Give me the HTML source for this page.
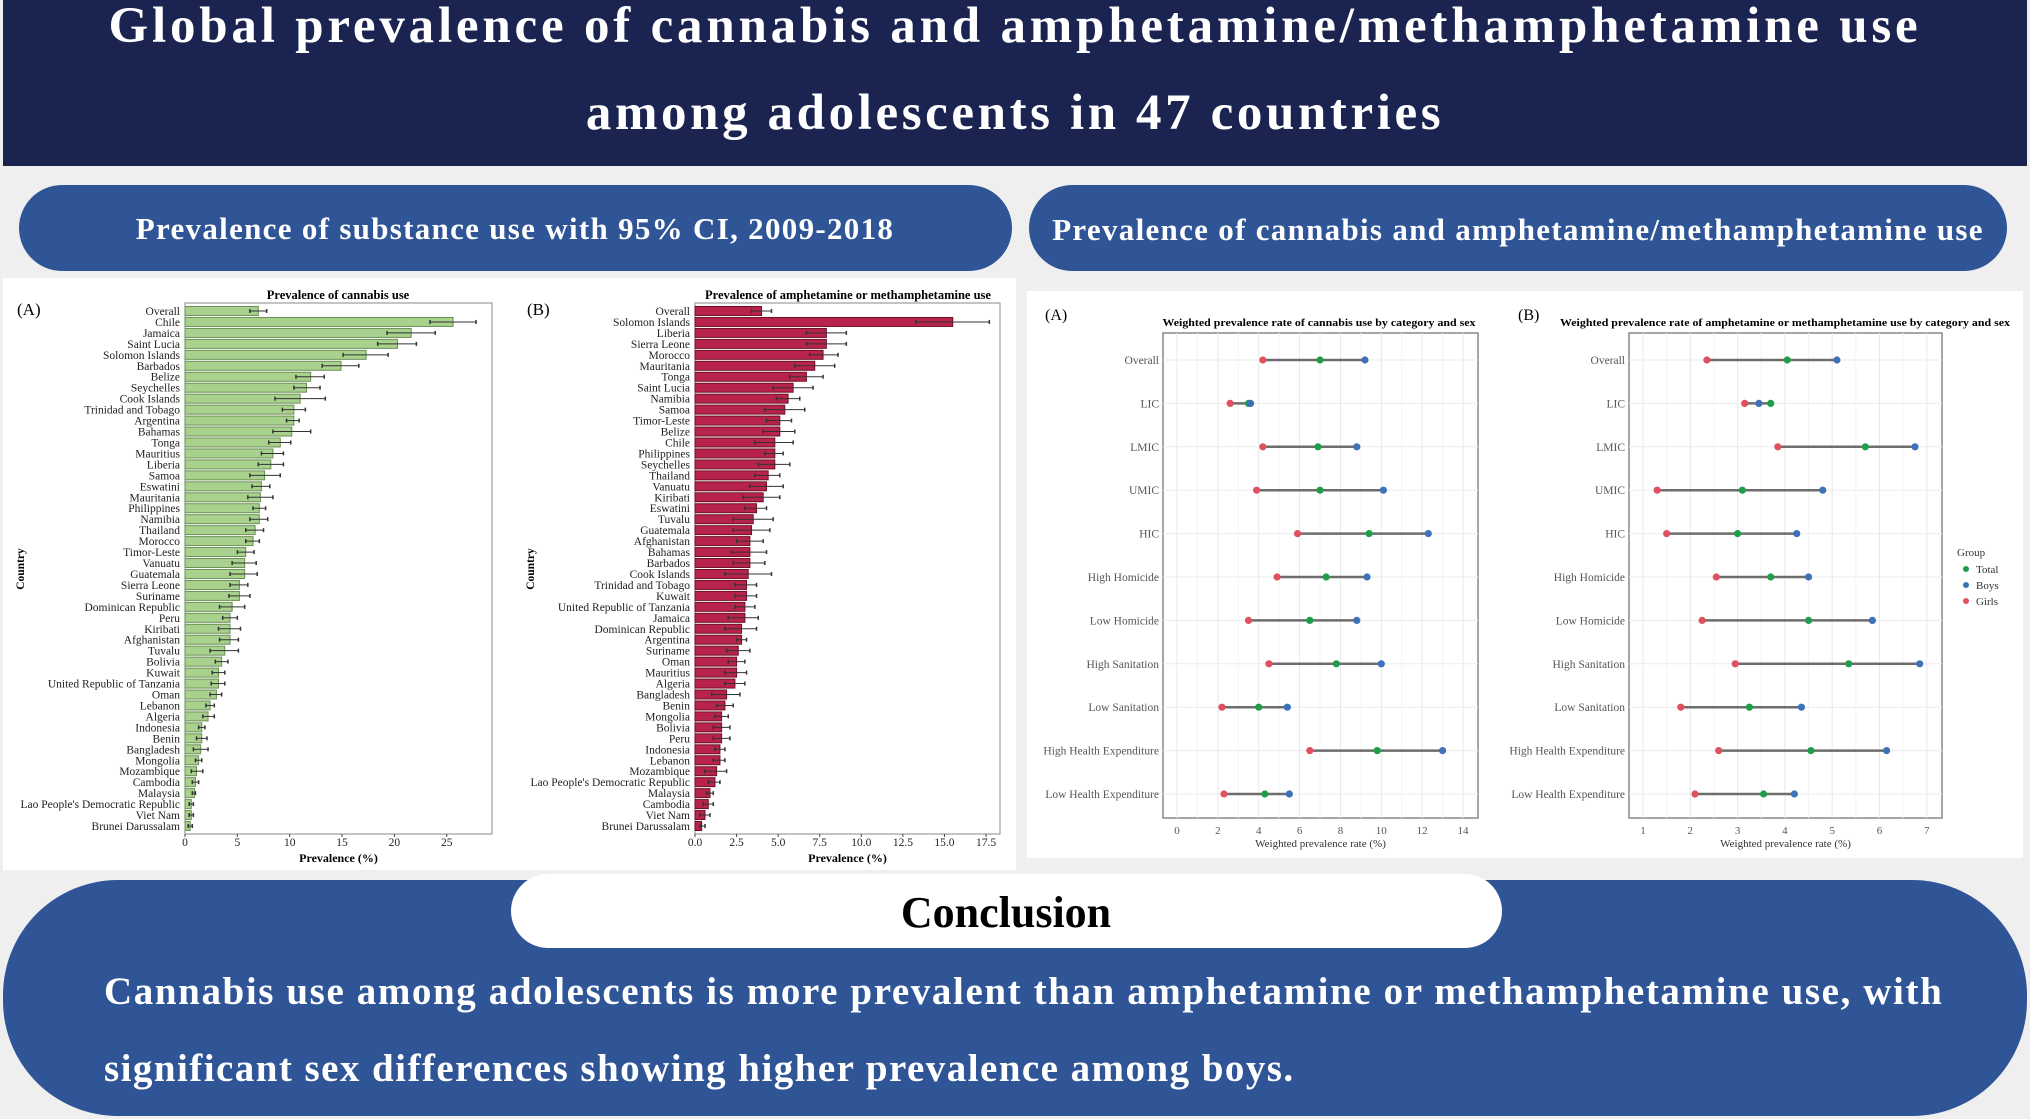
<!DOCTYPE html>
<html><head><meta charset="utf-8"><style>
html,body{margin:0;padding:0;background:#efefef;}
svg{display:block;font-family:"Liberation Serif",serif;}
</style></head><body>
<svg id="s" width="2030" height="1119" viewBox="0 0 2030 1119" xmlns="http://www.w3.org/2000/svg">
<rect x="0" y="0" width="2030" height="1119" fill="#efefef"/>
<rect x="3" y="0" width="2024" height="166" fill="#1b2451"/>
<text x="1015" y="42" text-anchor="middle" fill="#fff" font-size="51" font-weight="bold" letter-spacing="3.8">Global prevalence of cannabis and amphetamine/methamphetamine use</text>
<text x="1015" y="129" text-anchor="middle" fill="#fff" font-size="51" font-weight="bold" letter-spacing="3.6">among adolescents in 47 countries</text>
<rect x="19" y="185" width="993" height="86" rx="43" fill="#2f5597"/>
<text x="515" y="239" text-anchor="middle" fill="#fff" font-size="31" font-weight="bold" letter-spacing="1.3">Prevalence of substance use with 95% CI, 2009-2018</text>
<rect x="1029" y="185" width="978" height="86" rx="43" fill="#2f5597"/>
<text x="1518" y="240" text-anchor="middle" fill="#fff" font-size="31" font-weight="bold" letter-spacing="1.3">Prevalence of cannabis and amphetamine/methamphetamine use</text>
<rect x="3" y="278" width="1013" height="592" fill="#fff"/>
<rect x="1027" y="291" width="996" height="567" fill="#fff"/>
<g id="bars"></g>
<g id="dumb"></g>
<rect x="3" y="880" width="2024" height="236" rx="115" fill="#2f5597"/>
<rect x="511" y="874" width="991" height="74" rx="37" fill="#fff"/>
<text x="1006" y="927" text-anchor="middle" fill="#000" font-size="44" font-weight="bold">Conclusion</text>
<text x="104" y="1004" fill="#fff" font-size="39" font-weight="bold" letter-spacing="1.6">Cannabis use among adolescents is more prevalent than amphetamine or methamphetamine use, with</text>
<text x="104" y="1081" fill="#fff" font-size="39" font-weight="bold" letter-spacing="1.45">significant sex differences showing higher prevalence among boys.</text>
</svg>
<script>
const canCountries=["Overall","Chile","Jamaica","Saint Lucia","Solomon Islands","Barbados","Belize","Seychelles","Cook Islands","Trinidad and Tobago","Argentina","Bahamas","Tonga","Mauritius","Liberia","Samoa","Eswatini","Mauritania","Philippines","Namibia","Thailand","Morocco","Timor-Leste","Vanuatu","Guatemala","Sierra Leone","Suriname","Dominican Republic","Peru","Kiribati","Afghanistan","Tuvalu","Bolivia","Kuwait","United Republic of Tanzania","Oman","Lebanon","Algeria","Indonesia","Benin","Bangladesh","Mongolia","Mozambique","Cambodia","Malaysia","Lao People's Democratic Republic","Viet Nam","Brunei Darussalam"];
const canMean=[7.0,25.6,21.6,20.3,17.3,14.9,12.0,11.6,11.0,10.4,10.4,10.2,9.1,8.4,8.2,7.6,7.3,7.2,7.1,7.1,6.7,6.5,5.8,5.7,5.7,5.2,5.2,4.5,4.3,4.3,4.3,3.8,3.5,3.2,3.2,3.0,2.4,2.2,1.6,1.6,1.5,1.3,1.1,1.0,0.9,0.6,0.6,0.5];
const canLo=[6.2,23.4,19.3,18.4,15.1,13.1,10.6,10.4,8.6,9.3,9.7,8.4,8.0,7.3,7.0,6.2,6.4,6.0,6.5,6.2,5.8,5.8,5.0,4.5,4.3,4.3,4.2,3.3,3.6,3.2,3.3,2.4,2.9,2.6,2.5,2.4,2.0,1.7,1.3,1.1,0.8,1.0,0.6,0.7,0.7,0.4,0.4,0.3];
const canHi=[7.8,27.8,23.9,22.1,19.4,16.6,13.3,12.9,13.4,11.5,10.9,12.0,10.1,9.4,9.4,9.1,8.1,8.4,7.7,7.9,7.5,7.1,6.6,6.8,6.9,6.0,6.2,5.7,5.0,5.3,5.1,5.1,4.1,3.8,3.8,3.5,2.8,2.8,1.9,2.1,2.2,1.6,1.7,1.3,1.0,0.8,0.8,0.7];
const canTicks=[0,5,10,15,20,25];
const ampCountries=["Overall","Solomon Islands","Liberia","Sierra Leone","Morocco","Mauritania","Tonga","Saint Lucia","Namibia","Samoa","Timor-Leste","Belize","Chile","Philippines","Seychelles","Thailand","Vanuatu","Kiribati","Eswatini","Tuvalu","Guatemala","Afghanistan","Bahamas","Barbados","Cook Islands","Trinidad and Tobago","Kuwait","United Republic of Tanzania","Jamaica","Dominican Republic","Argentina","Suriname","Oman","Mauritius","Algeria","Bangladesh","Benin","Mongolia","Bolivia","Peru","Indonesia","Lebanon","Mozambique","Lao People's Democratic Republic","Malaysia","Cambodia","Viet Nam","Brunei Darussalam"];
const ampMean=[4.0,15.5,7.9,7.9,7.7,7.2,6.7,5.9,5.6,5.4,5.1,5.1,4.8,4.8,4.8,4.4,4.3,4.1,3.7,3.5,3.4,3.3,3.3,3.3,3.2,3.1,3.1,3.0,3.0,2.8,2.8,2.6,2.5,2.5,2.4,1.9,1.8,1.6,1.6,1.6,1.5,1.5,1.3,1.2,0.9,0.8,0.6,0.4];
const ampLo=[3.4,13.3,6.7,6.7,6.9,6.0,5.7,4.7,4.9,4.2,4.3,4.1,3.6,4.2,3.8,3.6,3.3,2.9,3.0,2.3,2.3,2.5,2.2,2.3,1.8,2.4,2.4,2.4,2.0,1.8,2.5,1.9,2.0,1.8,1.8,1.0,1.3,1.2,1.1,1.1,1.2,1.1,0.6,0.8,0.7,0.5,0.3,0.3];
const ampHi=[4.6,17.7,9.1,9.1,8.6,8.4,7.7,7.1,6.3,6.6,5.8,6.0,5.9,5.3,5.7,5.1,5.3,5.1,4.3,4.7,4.5,4.1,4.3,4.2,4.6,3.7,3.7,3.6,3.8,3.7,3.1,3.3,3.0,3.1,3.0,2.7,2.3,2.0,2.1,2.1,1.8,1.8,1.9,1.5,1.1,1.1,0.9,0.6];
const ampTicks=[0,2.5,5,7.5,10,12.5,15,17.5];
const ampTickLabels=["0.0","2.5","5.0","7.5","10.0","12.5","15.0","17.5"];

const groups=["Overall","LIC","LMIC","UMIC","HIC","High Homicide","Low Homicide","High Sanitation","Low Sanitation","High Health Expenditure","Low Health Expenditure"];
const canGirls=[4.2,2.6,4.2,3.9,5.9,4.9,3.5,4.5,2.2,6.5,2.3];
const canTotal=[7.0,3.5,6.9,7.0,9.4,7.3,6.5,7.8,4.0,9.8,4.3];
const canBoys=[9.2,3.6,8.8,10.1,12.3,9.3,8.8,10.0,5.4,13.0,5.5];
const ampGirls=[2.35,3.15,3.85,1.3,1.5,2.55,2.25,2.95,1.8,2.6,2.1];
const ampTotal=[4.05,3.7,5.7,3.1,3.0,3.7,4.5,5.35,3.25,4.55,3.55];
const ampBoys=[5.1,3.45,6.75,4.8,4.25,4.5,5.85,6.85,4.35,6.15,4.2];
const dumbTicksA=[0,2,4,6,8,10,12,14];
const dumbTicksB=[1,2,3,4,5,6,7];

const NS="http://www.w3.org/2000/svg";
function mk(parent,tag,attrs,txt){const e=document.createElementNS(NS,tag);for(const k in attrs)e.setAttribute(k,attrs[k]);if(txt!==undefined)e.textContent=txt;parent.appendChild(e);return e;}

function barChart(g,o){
  const sx=v=>o.x0+v*o.unit;
  const n=o.cats.length;
  const yTop=311,yBot=826,pTop=303,pBot=834;
  const sy=i=>yTop+i*(yBot-yTop)/(n-1);
  const bh=(yBot-yTop)/(n-1)*0.82;
  let e=mk(g,"rect",{x:o.left,y:pTop,width:o.right-o.left,height:pBot-pTop,fill:"#fff",stroke:"#888","stroke-width":1});
  
  
  o.cats.forEach((c,i)=>{
    let r=mk(g,"rect",{x:sx(0),y:sy(i)-bh/2,width:sx(o.mean[i])-sx(0),height:bh,fill:o.fill,stroke:o.stroke,"stroke-width":1});
    
    
    let l=mk(g,"line",{x1:sx(o.lo[i]),x2:sx(o.hi[i]),y1:sy(i),y2:sy(i),stroke:"#333","stroke-width":1});
    
    
    [o.lo[i],o.hi[i]].forEach(v=>{let c2=mk(g,"line",{x1:sx(v),x2:sx(v),y1:sy(i)-2,y2:sy(i)+2,stroke:"#333","stroke-width":1.5});
      
      });
    let t=mk(g,"text",{x:o.labelX,y:sy(i)+4,"text-anchor":"end","font-size":11.5,fill:"#222"},c);
    
    
  });
  o.ticks.forEach((v,i)=>{
    let tk=mk(g,"line",{x1:sx(v),x2:sx(v),y1:pBot,y2:pBot+3,stroke:"#444"});
    
    
    let t=mk(g,"text",{x:sx(v),y:846,"text-anchor":"middle","font-size":11.5,fill:"#222"},o.tickLabels?o.tickLabels[i]:String(v));
    
    
  });
  let tt=mk(g,"text",{x:o.titleX,y:299,"text-anchor":"middle","font-size":12.5,"font-weight":"bold"},o.title);
  
  
  let pl=mk(g,"text",{x:o.panelX,y:315,"font-size":17},o.panel);
  
  
  let xl=mk(g,"text",{x:(o.left+o.right)/2,y:862,"text-anchor":"middle","font-size":12,"font-weight":"bold"},"Prevalence (%)");
  
  
  let yl=mk(g,"text",{x:0,y:0,"text-anchor":"middle","font-size":11.5,"font-weight":"bold",transform:`translate(${o.panelX+7},569) rotate(-90)`},"Country");
  
  
}
const bg=document.getElementById("bars");
barChart(bg,{id:"cannabis-chart",cats:canCountries,mean:canMean,lo:canLo,hi:canHi,ticks:canTicks,x0:185,unit:10.47,left:185,right:492,labelX:180,fill:"#a9d18e",stroke:"#6b8f55",title:"Prevalence of cannabis use",titleX:338,panel:"(A)",panelX:17});
barChart(bg,{id:"amphetamine-chart",cats:ampCountries,mean:ampMean,lo:ampLo,hi:ampHi,ticks:ampTicks,tickLabels:ampTickLabels,x0:695,unit:16.63,left:695,right:1000,labelX:690,fill:"#b8234b",stroke:"#6e1028",title:"Prevalence of amphetamine or methamphetamine use",titleX:848,panel:"(B)",panelX:527});

function dumbChart(g,o){
  const sx=v=>o.x0+(v-o.ticks[0])*o.unit;
  const sy=i=>360+i*43.4;
  let e=mk(g,"rect",{x:o.left,y:333,width:o.right-o.left,height:485,fill:"#fff",stroke:"#777","stroke-width":1.3});
  
  
  for(let k=0;k<o.ticks.length*2-1;k++){const v=o.ticks[0]+k*(o.ticks[1]-o.ticks[0])/2;
    let gl=mk(g,"line",{x1:sx(v),x2:sx(v),y1:333,y2:818,stroke:k%2?"#f4f4f4":"#e8e8e8","stroke-width":1});
    
    }
  groups.forEach((c,i)=>{
    let gl=mk(g,"line",{x1:o.left,x2:o.right,y1:sy(i),y2:sy(i),stroke:"#ebebeb"});
    
    
    const vals=[o.girls[i],o.total[i],o.boys[i]];
    let l=mk(g,"line",{x1:sx(Math.min(...vals)),x2:sx(Math.max(...vals)),y1:sy(i),y2:sy(i),stroke:"#6d6d6d","stroke-width":2.5});
    
    
    [[o.total[i],"#1f9e4a","total"],[o.boys[i],"#3d72b8","boys"],[o.girls[i],"#e0505e","girls"]].forEach(p=>{
      let d=mk(g,"circle",{cx:sx(p[0]),cy:sy(i),r:3.6,fill:p[1]});
      
      
    });
    let t=mk(g,"text",{x:o.left-4,y:sy(i)+4,"text-anchor":"end","font-size":11.5,fill:"#555"},c);
    
    
  });
  o.ticks.forEach(v=>{
    let t=mk(g,"text",{x:sx(v),y:834,"text-anchor":"middle","font-size":11,fill:"#555"},String(v));
    
    
  });
  let tt=mk(g,"text",{x:o.titleX,y:326,"text-anchor":"middle","font-size":11,"font-weight":"bold",textLength:o.titleW,lengthAdjust:"spacingAndGlyphs"},o.title);
  
  
  let pl=mk(g,"text",{x:o.panelX,y:320,"font-size":16},o.panel);
  
  
  let xl=mk(g,"text",{x:(o.left+o.right)/2,y:847,"text-anchor":"middle","font-size":11,fill:"#333"},"Weighted prevalence rate (%)");
  
  
}
const dg=document.getElementById("dumb");
dumbChart(dg,{id:"cannabis-dumbbell",girls:canGirls,total:canTotal,boys:canBoys,ticks:dumbTicksA,x0:1177,unit:20.43,left:1163,right:1478,title:"Weighted prevalence rate of cannabis use by category and sex",titleX:1319,titleW:313,panel:"(A)",panelX:1045});
dumbChart(dg,{id:"amphetamine-dumbbell",girls:ampGirls,total:ampTotal,boys:ampBoys,ticks:dumbTicksB,x0:1643,unit:47.3,left:1629,right:1942,title:"Weighted prevalence rate of amphetamine or methamphetamine use by category and sex",titleX:1785,titleW:450,panel:"(B)",panelX:1518});
// legend
let lt=mk(dg,"text",{x:1957,y:556,"font-size":11,fill:"#333"},"Group");


[["Total","#1f9e4a",573],["Boys","#3d72b8",589],["Girls","#e0505e",605]].forEach(p=>{
  let c=mk(dg,"circle",{cx:1966,cy:p[2]-4,r:3,fill:p[1]});
  
  
  let t=mk(dg,"text",{x:1976,y:p[2],"font-size":11,fill:"#333"},p[0]);
  
  
});
</script>
</body></html>
